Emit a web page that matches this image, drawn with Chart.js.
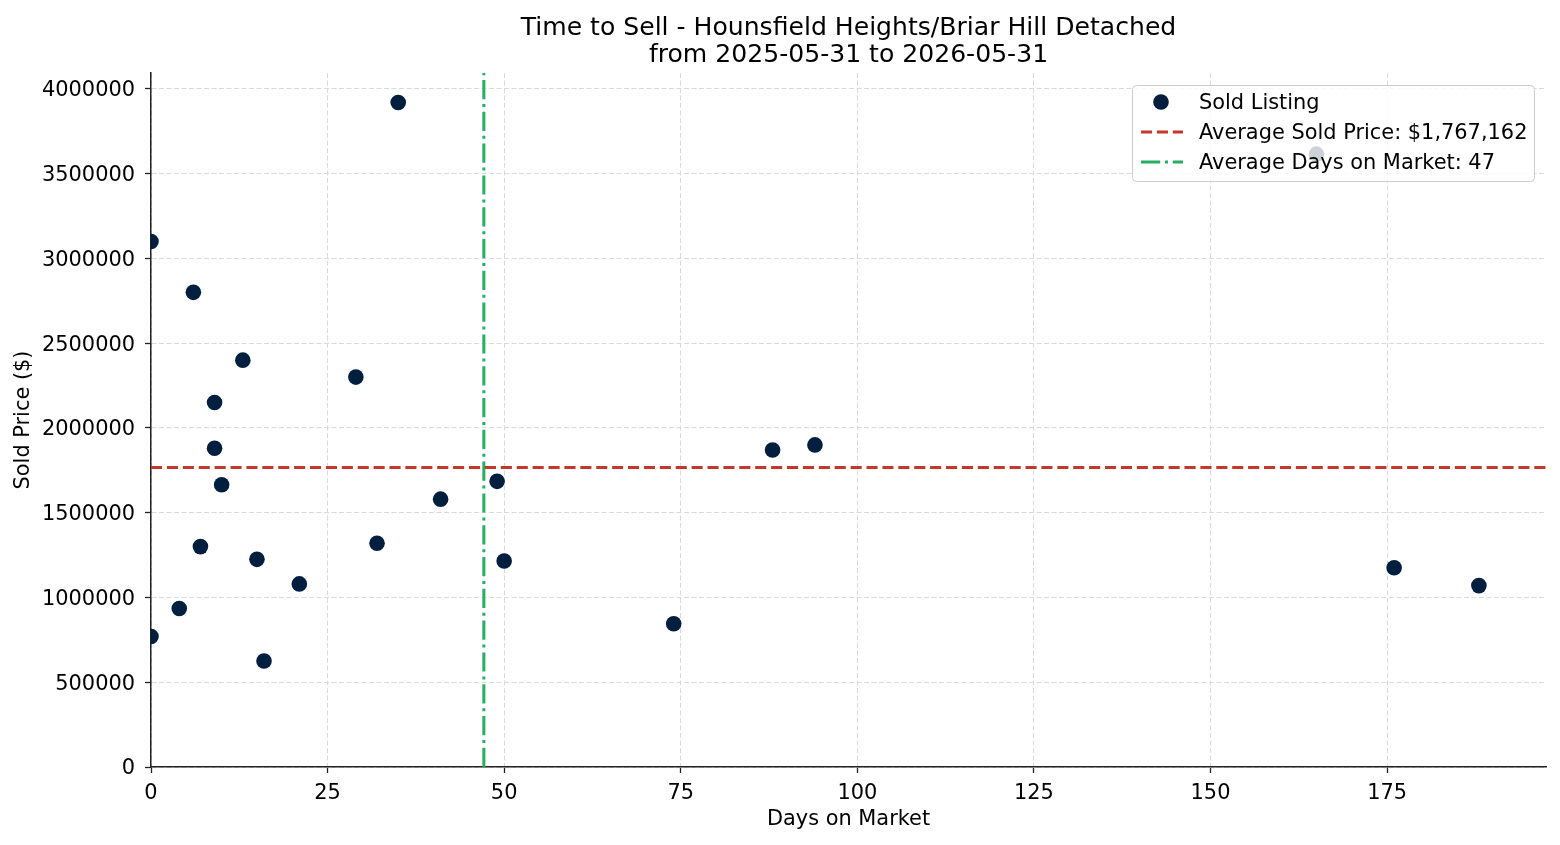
<!DOCTYPE html>
<html>
<head>
<meta charset="utf-8">
<title>Time to Sell - Hounsfield Heights/Briar Hill Detached</title>
<script src="https://cdn.jsdelivr.net/npm/chart.js@4.4.1/dist/chart.umd.min.js"></script>
<style>
  html, body { margin: 0; padding: 0; background: #fff; }
  canvas { display: block; }
</style>
</head>
<body>
<canvas id="myChart" width="1560" height="845"></canvas>
<script>
// data
var days = [0, 0, 4, 6, 7, 9, 9, 10, 13, 15, 16, 21, 29, 32, 35, 41, 49, 50, 74, 88, 94, 165, 176, 188]
var prices = [3100000, 770000, 935000, 2800000, 1300000, 2150000, 1880000, 1665000, 2400000, 1225000, 625000, 1080000,
              2300000, 1320000, 3920000, 1580000, 1685000, 1215000, 845000, 1870000, 1900000, 3615000, 1175000, 1070000]
var avgPrice = 1767162
var avgDays = days.reduce((a, b) => a + b, 0) / days.length

var xTicks = [0, 25, 50, 75, 100, 125, 150, 175]
var yTicks = [0, 500000, 1000000, 1500000, 2000000, 2500000, 3000000, 3500000, 4000000]
var xLimits = [0, 197.5]
var yLimits = [0, 4094000]

var titleLines = ['Time to Sell - Hounsfield Heights/Briar Hill Detached', 'from 2025-05-31 to 2026-05-31']
var legendLabels = ['Sold Listing', 'Average Sold Price: $1,767,162', 'Average Days on Market: 47']

var navy = '#001f3f'
var red = '#c0392b'
var green = '#27ae60'
var fontSize = 20.9

Chart.defaults.font.family = "'DejaVu Sans', sans-serif"
Chart.defaults.color = '#000'

// matplotlib-style legend box in the upper right corner
var legendBox = {
    id: 'legendBox',
    afterDraw(chart) {
        var ctx = chart.ctx
        var x = 1132, y = 85, w = 402, h = 96
        ctx.save()
        ctx.beginPath()
        ctx.roundRect(x + 0.5, y + 0.5, w, h, 4)
        ctx.fillStyle = 'rgba(255,255,255,0.8)'
        ctx.fill()
        ctx.strokeStyle = '#cccccc'
        ctx.lineWidth = 1
        ctx.stroke()

        var rows = [102, 132, 162]

        ctx.beginPath()
        ctx.arc(1161, rows[0], 7.8, 0, Math.PI * 2)
        ctx.fillStyle = navy
        ctx.fill()

        ctx.lineWidth = 3
        ctx.beginPath()
        ctx.setLineDash([11.1, 4.8])
        ctx.strokeStyle = red
        ctx.moveTo(1141, rows[1])
        ctx.lineTo(1183, rows[1])
        ctx.stroke()

        ctx.beginPath()
        ctx.setLineDash([19.2, 4.8, 3, 4.8])
        ctx.strokeStyle = green
        ctx.moveTo(1141, rows[2])
        ctx.lineTo(1183, rows[2])
        ctx.stroke()

        ctx.setLineDash([])
        ctx.fillStyle = '#000'
        ctx.font = fontSize + "px 'DejaVu Sans'"
        ctx.textBaseline = 'middle'
        ctx.textAlign = 'left'
        legendLabels.forEach((t, i) => ctx.fillText(t, 1199, rows[i] + 2))
        ctx.restore()
    }
}

var ctx = document.getElementById('myChart').getContext('2d')

var chart = new Chart(ctx, {
    type: 'scatter',
    data: {
        datasets: [
            {
                label: legendLabels[0],
                data: days.map((d, i) => ({ x: d, y: prices[i] })),
                backgroundColor: navy,
                pointRadius: 7.8,
                pointBorderWidth: 0,
                clip: 0,
            },
            {
                label: legendLabels[1],
                data: [{ x: xLimits[0], y: avgPrice }, { x: xLimits[1], y: avgPrice }],
                showLine: true,
                borderColor: red,
                borderWidth: 3,
                borderDash: [11.1, 4.8],
                pointRadius: 0,
                clip: 0,
            },
            {
                label: legendLabels[2],
                data: [{ x: avgDays, y: yLimits[0] }, { x: avgDays, y: yLimits[1] }],
                showLine: true,
                borderColor: green,
                borderWidth: 3,
                borderDash: [19.2, 4.8, 3, 4.8],
                pointRadius: 0,
                clip: 0,
            },
        ],
    },
    options: {
        responsive: false,
        animation: false,
        devicePixelRatio: 1,
        layout: { padding: { left: 0, right: 14, top: 0, bottom: 0 } },
        plugins: {
            legend: { display: false },
            tooltip: { enabled: false },
            title: {
                display: true,
                text: titleLines,
                fullSize: false,
                color: '#000',
                font: { size: 25.1, weight: 'normal', lineHeight: 1.115 },
                padding: { top: 14, bottom: 3 },
            },
        },
        scales: {
            x: {
                type: 'linear',
                min: xLimits[0],
                max: xLimits[1],
                afterFit: (s) => { s.height = 78 },
                afterBuildTicks: (s) => { s.ticks = xTicks.map(v => ({ value: v })) },
                ticks: { font: { size: fontSize }, padding: 8, color: '#000', maxRotation: 0 },
                grid: { color: '#dadada', lineWidth: 1, tickLength: 6, tickColor: '#222', tickWidth: 1.3 },
                border: { color: '#222', width: 1.5, dash: [5, 2.5] },
                title: { display: true, text: 'Days on Market', font: { size: fontSize }, color: '#000', padding: { top: 0, bottom: 12.5 } },
            },
            y: {
                type: 'linear',
                min: yLimits[0],
                max: yLimits[1],
                afterFit: (s) => { s.width = 151 },
                afterBuildTicks: (s) => { s.ticks = yTicks.map(v => ({ value: v })) },
                ticks: { font: { size: fontSize }, padding: 10, labelOffset: 2, color: '#000', callback: (v) => String(v) },
                grid: { color: '#dadada', lineWidth: 1, tickLength: 6, tickColor: '#222', tickWidth: 1.3 },
                border: { color: '#222', width: 1.5, dash: [5, 2.5] },
                title: { display: true, text: 'Sold Price ($)', font: { size: fontSize }, color: '#000', padding: { top: 11.5, bottom: 0 } },
            },
        },
    },
    plugins: [legendBox],
})
</script>
</body>
</html>
